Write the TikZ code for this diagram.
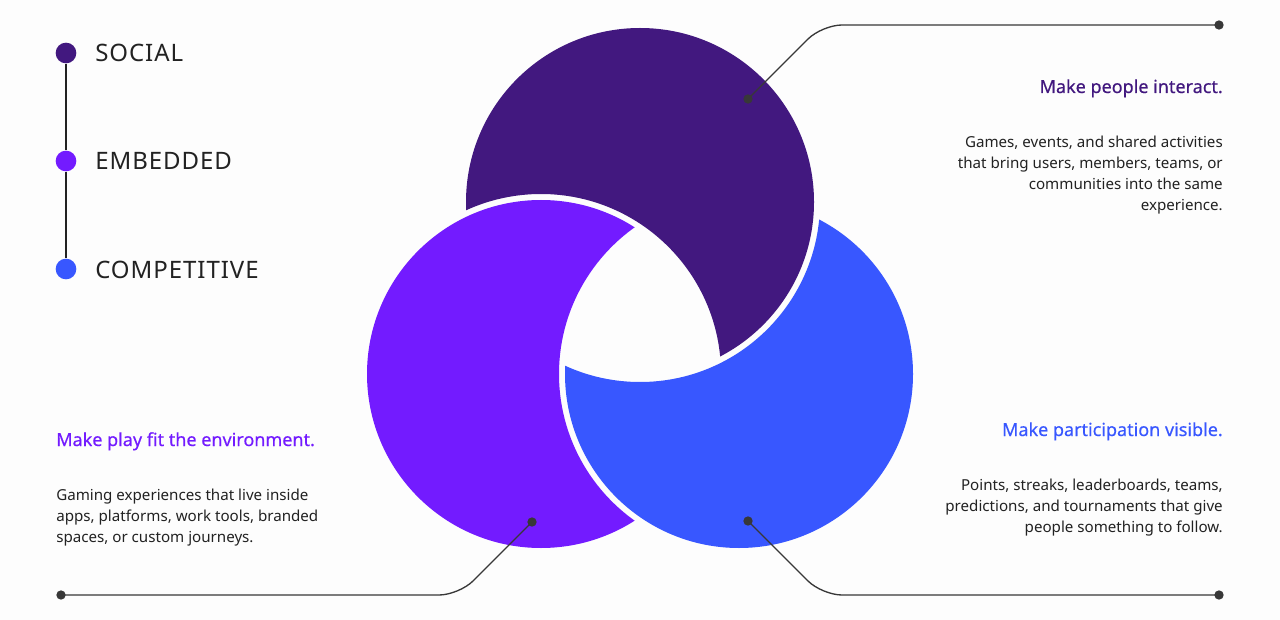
\documentclass[tikz,border=0pt]{standalone}
\usepackage{fontspec}
\setmainfont{Noto Sans}
\newfontfamily\titlefont[FakeBold=0.4]{Noto Sans}
\newfontfamily\legendfont[LetterSpace=4]{Noto Sans}
\usetikzlibrary{calc}

\definecolor{social}{HTML}{42187F}
\definecolor{embedded}{HTML}{731BFF}
\definecolor{competitive}{HTML}{3857FF}
\definecolor{ink}{HTML}{222222}
\definecolor{wire}{HTML}{383838}
\definecolor{paper}{HTML}{FDFDFD}

\tikzset{
  dot/.style={circle,fill=wire,inner sep=0pt,minimum size=7pt},
  legdot/.style={circle,inner sep=0pt,minimum size=15.5pt},
  legend/.style={text=ink,inner sep=0pt,font=\legendfont\fontsize{18pt}{21pt}\selectfont},
  title/.style={inner sep=0pt,font=\titlefont\fontsize{13.5pt}{16pt}\selectfont},
  body/.style={text=ink,inner sep=0pt,font=\fontsize{11.35pt}{15.75pt}\selectfont},
  wire/.style={draw=wire,line width=1pt,rounded corners=15pt}
}

\begin{document}
\begin{tikzpicture}[x=0.75pt,y=-0.75pt]

\fill[paper] (0,0) rectangle (1280,620);
\useasboundingbox (0,0) rectangle (1280,620);

% the three rings, each cut by the next one
\coordinate (ctop) at (640,202);
\coordinate (cleft) at (541,374);
\coordinate (cright) at (739,374);
\foreach \c/\n/\col in {ctop/cleft/social, cleft/cright/embedded, cright/ctop/competitive}{
  \begin{scope}
    \clip (\c) circle (174);
    \fill[\col,even odd rule] (\c) circle (200) (\n) circle (180);
  \end{scope}
}

% legend
\node[legdot,fill=social] (lsoc) at (66,53) {};
\node[legdot,fill=embedded] (lemb) at (66,161) {};
\node[legdot,fill=competitive] (lcom) at (66,269) {};
\draw[ink,line width=0.8pt] (lsoc) -- (lemb) -- (lcom);
\node[legend,anchor=base west] at (95,62) {SOCIAL};
\node[legend,anchor=base west] at (95,170) {EMBEDDED};
\node[legend,anchor=base west] at (95,278) {COMPETITIVE};

% social
\node[dot] (sdot) at (748,99) {};
\node[dot] (send) at (1219,25) {};
\coordinate (sbend) at (822,25);
\draw[wire] (sdot.center) -- (sbend) -- (send.center);
\node[title,text=social,anchor=base east] (stitle) at (1223,93) {Make people interact.};
\node[body,align=right,anchor=north east] (sbody) at (1223,136)
  {Games, events, and shared activities\\that bring users, members, teams, or\\communities into the same\\experience.};

% embedded
\node[dot] (edot) at (532,522) {};
\node[dot] (eend) at (61,595) {};
\coordinate (ebend) at (459,595);
\draw[wire] (edot.center) -- (ebend) -- (eend.center);
\node[title,text=embedded,anchor=base west] (etitle) at (56,446) {Make play fit the environment.};
\node[body,align=left,anchor=north west] (ebody) at (56,489)
  {Gaming experiences that live inside\\apps, platforms, work tools, branded\\spaces, or custom journeys.};

% competitive
\node[dot] (cdot) at (748,521) {};
\node[dot] (cend) at (1219,595) {};
\coordinate (cbend) at (822,595);
\draw[wire] (cdot.center) -- (cbend) -- (cend.center);
\node[title,text=competitive,anchor=base east] (ctitle) at (1223,436) {Make participation visible.};
\node[body,align=right,anchor=north east] (cbody) at (1223,479)
  {Points, streaks, leaderboards, teams,\\predictions, and tournaments that give\\people something to follow.};

\end{tikzpicture}
\end{document}
